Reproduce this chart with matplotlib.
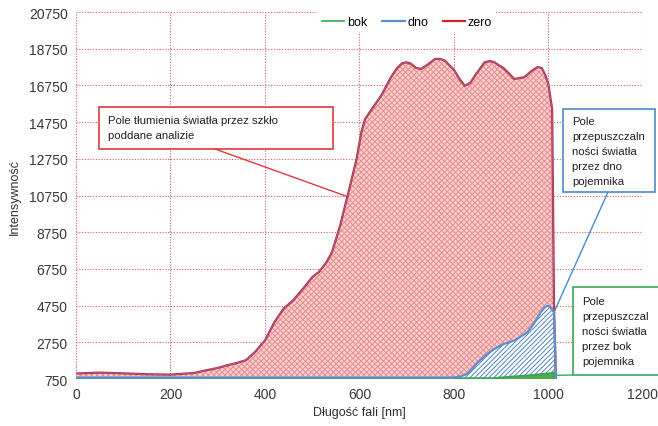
import matplotlib
matplotlib.use('Agg')
import matplotlib.pyplot as plt
from matplotlib.patches import Rectangle

plt.rcParams['font.family'] = ['Liberation Sans', 'DejaVu Sans']
plt.rcParams['hatch.linewidth'] = 0.7

# Widmo odniesienia (zero)
zero_x = [0, 50, 100, 150, 200, 250, 280, 300, 320, 340, 360, 380, 400, 420,
          440, 460, 486, 500, 514, 530, 542, 559, 577, 594, 604, 612, 630,
          646, 667, 680, 690, 699, 708, 720, 731, 745, 760, 770, 781, 800,
          812, 823, 835, 845, 865, 876, 886, 895, 905, 928, 949, 965, 977,
          986, 994, 1000, 1008, 1012, 1016]
zero_y = [1050, 1100, 1060, 1010, 990, 1080, 1250, 1350, 1500, 1620, 1780,
          2250, 2850, 3850, 4600, 5050, 5840, 6300, 6580, 7100, 7670, 9100,
          10950, 12740, 14200, 14920, 15600, 16190, 17210, 17700, 17950,
          18010, 17950, 17700, 17650, 17900, 18190, 18200, 18100, 17600,
          17100, 16730, 16900, 17300, 18010, 18080, 18010, 17850, 17700,
          17100, 17200, 17550, 17750, 17700, 17280, 16800, 15460, 4400, 780]

# Przepuszczalność przez dno
dno_x = [0, 400, 800, 815, 830, 850, 870, 886, 905, 928, 956, 970, 984,
         992, 998, 1004, 1008, 1012, 1016]
dno_y = [830, 830, 830, 900, 1050, 1650, 2100, 2400, 2650, 2850, 3300,
         3800, 4400, 4650, 4740, 4680, 4500, 4400, 790]

# Przepuszczalność przez bok
bok_x = [0, 600, 880, 920, 960, 1000, 1012, 1016]
bok_y = [790, 790, 800, 880, 960, 1060, 1100, 780]

y_ticks = list(range(750, 20751, 2000))
x_ticks = list(range(0, 1201, 200))

fig = plt.figure(figsize=(6.58, 4.27), dpi=100)
ax = fig.add_axes([0.1155, 0.110, 0.8615, 0.8595])

# pola
ax.fill_between(zero_x, zero_y, 750, facecolor='#f9d0d0', hatch='xxxxxx',
                edgecolor='#ec8c8c', linewidth=0, zorder=2)
ax.fill_between(dno_x, dno_y, 750, facecolor='white', hatch='///////',
                edgecolor='#4f86c6', linewidth=0, zorder=3)
ax.fill_between(bok_x, bok_y, 750, facecolor='#4ea84e', linewidth=0, zorder=4)

ax.plot(zero_x, zero_y, color='#d9232a', lw=1.6, label='zero', zorder=5)
ax.plot(zero_x, zero_y, color='#6f6fc0', lw=0.6, zorder=6)
ax.plot(bok_x, bok_y, color='#2eaa50', lw=1.2, label='bok', zorder=5.5)
ax.plot(dno_x, dno_y, color='#5b8fd0', lw=1.6, label='dno', zorder=6.5)

ax.set_xlim(0, 1200)
ax.set_ylim(750, 20750)
ax.set_xticks(x_ticks)
ax.set_yticks(y_ticks)
ax.grid(True, color='#e05a5a', linestyle=(0, (1, 1.5)), linewidth=0.8)
ax.set_axisbelow(True)
for s in ax.spines.values():
    s.set_visible(False)
ax.tick_params(length=0, labelsize=10, labelcolor='#383838', pad=6)
ax.set_xlabel('Długość fali [nm]', fontsize=9, color='#303030', labelpad=3)
ax.set_ylabel('Intensywność', fontsize=9, color='#303030', labelpad=6)

handles, labels = ax.get_legend_handles_labels()
by_label = dict(zip(labels, handles))
leg_order = ['bok', 'dno', 'zero']
leg = fig.legend([by_label[k] for k in leg_order], leg_order,
                 loc='center', bbox_to_anchor=(407 / 658, 1 - 23 / 427),
                 ncol=3, fontsize=9, handlelength=1.8, handletextpad=0.2,
                 columnspacing=1.2, frameon=True, fancybox=False,
                 framealpha=1, edgecolor='none', borderpad=0.3)


def px(x, y):
    return x / 658, 1 - y / 427


def box(x0, y0, x1, y1, color, text, top, ls):
    fig.patches.append(Rectangle(px(x0, y1), (x1 - x0) / 658, (y1 - y0) / 427,
                                 transform=fig.transFigure, facecolor='white',
                                 edgecolor=color, linewidth=1.2, zorder=10))
    fig.text(*px(x0 + 9, top), text, fontsize=8.2, color='#202020',
             va='top', ha='left', linespacing=ls, zorder=11)


box(99, 108, 333, 150, '#e0383e',
    'Pole tłumienia światła przez szkło\npoddane analizie', 116, 1.65)
box(563, 110, 655, 193, '#4a8cc8',
    'Pole\nprzepuszczaln\nności światła\nprzez dno\npojemnika', 117, 1.62)
box(573, 288, 662, 376, '#3aa85a',
    'Pole\nprzepuszczal\nności światła\nprzez bok\npojemnika', 297, 1.62)

ax.annotate('', xy=(577, 10670), xytext=px(215, 150),
            textcoords='figure fraction',
            arrowprops=dict(arrowstyle='-', color='#e0383e', lw=1.0,
                            shrinkA=0, shrinkB=0))
ax.annotate('', xy=(1012, 4400), xytext=px(608, 193),
            textcoords='figure fraction',
            arrowprops=dict(arrowstyle='-', color='#4a8cc8', lw=1.0,
                            shrinkA=0, shrinkB=0))
ax.annotate('', xy=(1016, 950), xytext=px(573, 376),
            textcoords='figure fraction',
            arrowprops=dict(arrowstyle='-', color='#3aa85a', lw=1.0,
                            shrinkA=0, shrinkB=0))

fig.savefig('out.png', dpi=100)
